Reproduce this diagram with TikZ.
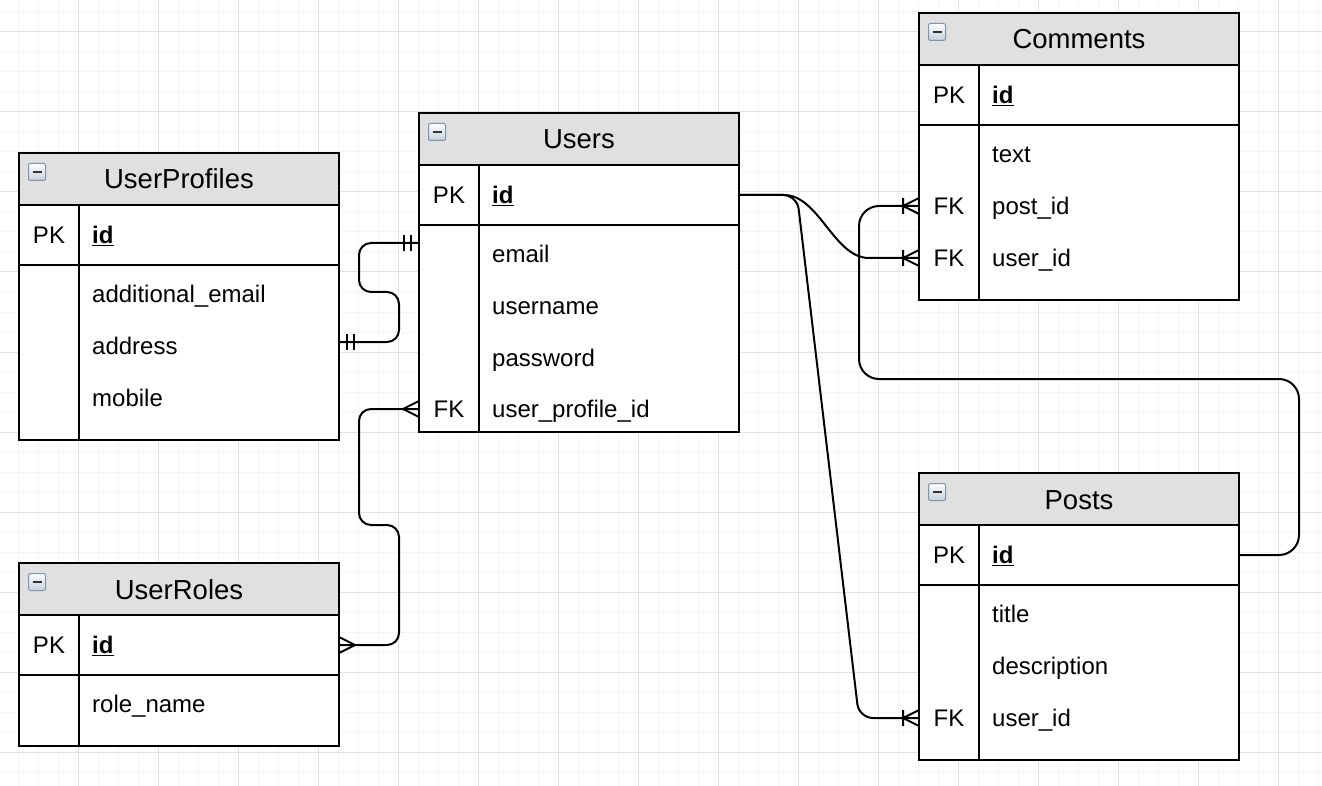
\documentclass[tikz,border=0pt]{standalone}
\usepackage{fontspec}
\setmainfont{Liberation Sans}
\usepackage{tikz}
\usetikzlibrary{positioning, calc}
\definecolor{hdrgray}{HTML}{E0E0E0}
\definecolor{gridmajor}{HTML}{E2E2E2}
\definecolor{gridminor}{HTML}{F5F5F5}
\definecolor{iconedge}{HTML}{7D93AE}
\definecolor{iconbot}{HTML}{C4CFDC}
\definecolor{icondash}{HTML}{333333}
\tikzstyle{header} = [rectangle, draw=black, line width=2pt, outer sep=0pt, fill=hdrgray, minimum width=320pt, minimum height=52pt, inner sep=0pt, font=\fontsize{27.5}{30}\selectfont, text height=20pt, text depth=0pt]
\tikzstyle{pkrow} = [rectangle, draw=black, line width=2pt, outer sep=0pt, fill=white, minimum width=320pt, minimum height=60pt, inner sep=0pt]
\tikzstyle{body} = [rectangle, draw=black, line width=2pt, outer sep=0pt, fill=white, minimum width=320pt, inner sep=0pt]
\tikzstyle{key} = [inner sep=0pt, font=\fontsize{24}{28}\selectfont, text height=17.5pt, text depth=0pt]
\tikzstyle{field} = [key, anchor=west]
\tikzstyle{icon} = [rectangle, rounded corners=2pt, draw=iconedge, line width=1pt, top color=white, bottom color=iconbot, minimum size=17pt, inner sep=0pt, anchor=north west,
  path picture={\draw[icondash, line width=2.5pt] ([xshift=4pt]path picture bounding box.west) -- ([xshift=-4pt]path picture bounding box.east);}]
\tikzstyle{rel} = [line width=2pt, rounded corners=12pt]
\tikzstyle{minorline} = [gridminor, line width=1pt]
\tikzstyle{majorline} = [gridmajor, line width=1pt]
\tikzset{
  crowfoot/.pic={\draw[line width=2pt] (-16,0) -- (0,-8) (-16,0) -- (0,8);},
  crowbar/.pic={\draw[line width=2pt] (-16,-8) -- (-16,8) (-16,0) -- (0,-8) (-16,0) -- (0,8);},
  twobar/.pic={\draw[line width=2pt] (-8,-8) -- (-8,8) (-15,-8) -- (-15,8);}
}

\begin{document}
\begin{tikzpicture}[x=1pt, y=-1pt]
	\useasboundingbox (0,0) rectangle (1322,786);
	% grid
	\foreach \x in {18,38,...,1318} \draw[minorline] (\x,0) -- (\x,786);
	\foreach \y in {12,32,...,772} \draw[minorline] (0,\y) -- (1322,\y);
	\foreach \x in {78,158,...,1278} \draw[majorline] (\x,0) -- (\x,786);
	\foreach \y in {32,112,...,752} \draw[majorline] (0,\y) -- (1322,\y);

	% UserProfiles
	\node (upf) [header] at (179,179) {UserProfiles};
	\node (upf-pk) [pkrow, below=0pt of upf] {};
	\node (upf-body) [body, minimum height=175pt, below=0pt of upf-pk] {};
	\draw[line width=2pt] ([xshift=60pt]upf-pk.north west) -- ([xshift=60pt]upf-body.south west);
	\node [icon] at ([shift={(9pt,-10pt)}]upf.north west) {};
	\node [key] at ([xshift=30pt]upf-pk.west) {PK};
	\node (upf-id) [field] at ([xshift=73pt]upf-pk.west) {\underline{\textbf{id}}};
	\node (upf-email) [field] at (92,294) {additional\_email};
	\node (upf-address) [field] at (92,346) {address};
	\node (upf-mobile) [field] at (92,398) {mobile};

	% Users
	\node (users) [header] at (579,139) {Users};
	\node (users-pk) [pkrow, below=0pt of users] {};
	\node (users-body) [body, minimum height=207pt, below=0pt of users-pk] {};
	\draw[line width=2pt] ([xshift=60pt]users-pk.north west) -- ([xshift=60pt]users-body.south west);
	\node [icon] at ([shift={(9pt,-10pt)}]users.north west) {};
	\node [key] at ([xshift=30pt]users-pk.west) {PK};
	\node (users-id) [field] at ([xshift=73pt]users-pk.west) {\underline{\textbf{id}}};
	\node (users-email) [field] at (492,254) {email};
	\node (users-name) [field] at (492,306) {username};
	\node (users-pass) [field] at (492,358) {password};
	\node (users-upid) [field] at (492,409) {user\_profile\_id};
	\node [key] at (449,409) {FK};

	% Comments
	\node (com) [header] at (1079,39) {Comments};
	\node (com-pk) [pkrow, below=0pt of com] {};
	\node (com-body) [body, minimum height=175pt, below=0pt of com-pk] {};
	\draw[line width=2pt] ([xshift=60pt]com-pk.north west) -- ([xshift=60pt]com-body.south west);
	\node [icon] at ([shift={(9pt,-10pt)}]com.north west) {};
	\node [key] at ([xshift=30pt]com-pk.west) {PK};
	\node (com-id) [field] at ([xshift=73pt]com-pk.west) {\underline{\textbf{id}}};
	\node (com-text) [field] at (992,154) {text};
	\node (com-postid) [field] at (992,206) {post\_id};
	\node (com-userid) [field] at (992,258) {user\_id};
	\node [key] at (949,206) {FK};
	\node [key] at (949,258) {FK};

	% Posts
	\node (posts) [header] at (1079,499) {Posts};
	\node (posts-pk) [pkrow, below=0pt of posts] {};
	\node (posts-body) [body, minimum height=175pt, below=0pt of posts-pk] {};
	\draw[line width=2pt] ([xshift=60pt]posts-pk.north west) -- ([xshift=60pt]posts-body.south west);
	\node [icon] at ([shift={(9pt,-10pt)}]posts.north west) {};
	\node [key] at ([xshift=30pt]posts-pk.west) {PK};
	\node (posts-id) [field] at ([xshift=73pt]posts-pk.west) {\underline{\textbf{id}}};
	\node (posts-title) [field] at (992,614) {title};
	\node (posts-desc) [field] at (992,666) {description};
	\node (posts-userid) [field] at (992,718) {user\_id};
	\node [key] at (949,718) {FK};

	% UserRoles
	\node (roles) [header] at (179,589) {UserRoles};
	\node (roles-pk) [pkrow, below=0pt of roles] {};
	\node (roles-body) [body, minimum height=71pt, below=0pt of roles-pk] {};
	\draw[line width=2pt] ([xshift=60pt]roles-pk.north west) -- ([xshift=60pt]roles-body.south west);
	\node [icon] at ([shift={(9pt,-10pt)}]roles.north west) {};
	\node [key] at ([xshift=30pt]roles-pk.west) {PK};
	\node (roles-id) [field] at ([xshift=73pt]roles-pk.west) {\underline{\textbf{id}}};
	\node (roles-name) [field] at (92,704) {role\_name};

	% relations
	\coordinate (c-email) at ($(users-body.west |- users-email)+(0,-11)$);
	\coordinate (c-address) at ($(upf-body.east |- upf-address)+(0,-4)$);
	\draw [rel] (c-email) -- ++(-60,0) -- ++(0,49) -- ++(40,0) |- (c-address);
	\path (c-email) pic {twobar};
	\path (c-address) pic[xscale=-1] {twobar};

	\draw [rel] (users-body.west |- users-upid) -- ++(-60,0) -- ++(0,116) -- ++(40,0) |- (roles-pk.east);
	\path (users-body.west |- users-upid) pic {crowfoot};
	\path (roles-pk.east) pic[xscale=-1] {crowfoot};

	\draw [line width=2pt] (users-pk.east) -- ++(45,0) .. controls +(35,0) and +(-35,0) .. ($(com-body.west |- com-userid)+(-50,0)$) -- (com-body.west |- com-userid);
	\path (com-body.west |- com-userid) pic {crowbar};

	\draw [rel, rounded corners=14pt] (users-pk.east) -- ++(58,0) -- ($(posts-body.west |- posts-userid)+(-60,0)$) -- (posts-body.west |- posts-userid);
	\path (posts-body.west |- posts-userid) pic {crowbar};

	\draw [rel, rounded corners=20pt] (posts-pk.east) -- ++(60,0) -- ++(0,-176) -| ($(com-body.west |- com-postid)+(-60,0)$) -- (com-body.west |- com-postid);
	\path (com-body.west |- com-postid) pic {crowbar};
\end{tikzpicture}
\end{document}
